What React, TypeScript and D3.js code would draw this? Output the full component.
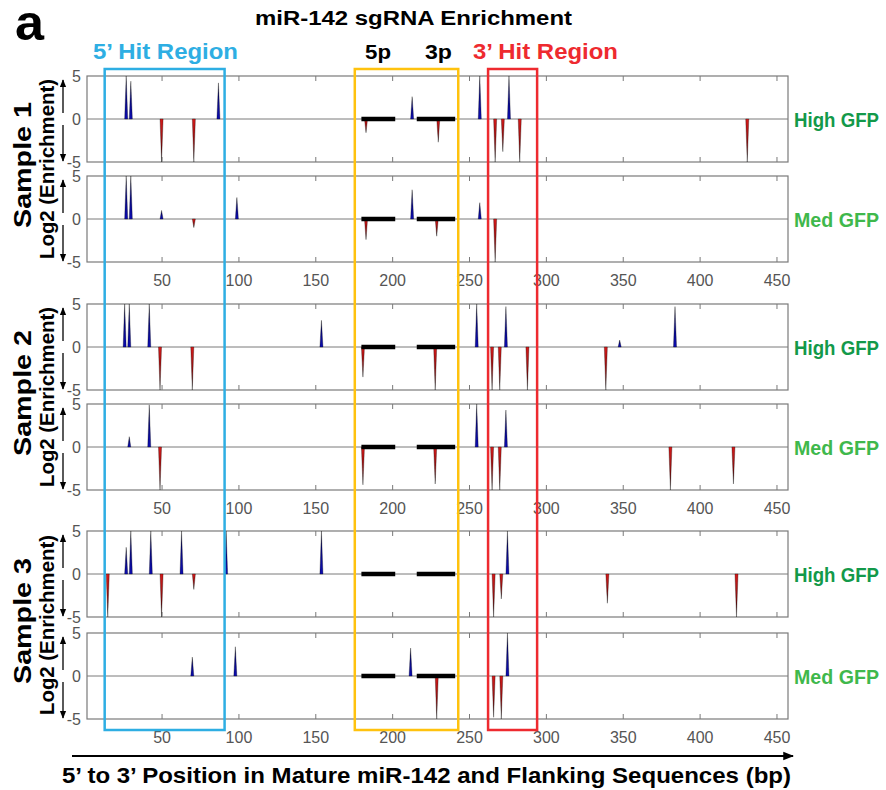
import * as d3 from "d3";
import { useEffect, useRef } from "react";

// spikes: [position (bp), log2 enrichment]
const s1High: [number, number][] = [[27, 5], [30, 4.4], [50, -5], [71, -5], [87, 4.2], [183, -1.6], [213, 2.6], [230, -2.7], [257, 5], [267, -5], [272, -3.8], [276, 5], [283, -5], [431, -5]];
const s1Med: [number, number][] = [[27, 5], [30, 5], [50, 1], [71, -1], [99, 2.5], [183, -2.4], [213, 3.4], [229, -2], [257, 1.9], [267, -5]];
const s2High: [number, number][] = [[26, 5], [29, 5], [42, 5], [49, -5], [70, -5], [154, 3.1], [181, -3.5], [228, -5], [255, 5], [265, -5], [270, -5], [274, 4.7], [288, -5], [339, -5], [348, 0.8], [384, 4.7]];
const s2Med: [number, number][] = [[29, 1.2], [42, 4.9], [49, -5], [181, -4.4], [228, -4.3], [255, 5], [265, -5], [270, -5], [274, 4.3], [381, -5], [422, -4.3]];
const s3High: [number, number][] = [[15, -5], [27, 3.1], [30, 5], [43, 5], [50, -5], [63, 5], [71, -1.8], [92, 5], [154, 5], [266, -5], [271, -2.9], [275, 5], [340, -3.4], [424, -5]];
const s3Med: [number, number][] = [[70, 2.2], [98, 3.4], [212, 3.25], [229, -5], [266, -4.8], [271, -5], [275, 5]];

const panelData = [s1High, s1Med, s2High, s2Med, s3High, s3Med];
const panelLabels = ["High GFP", "Med GFP", "High GFP", "Med GFP", "High GFP", "Med GFP"];
const sampleLabels = ["Sample 1", "Sample 2", "Sample 3"];
const xTicks = [50, 100, 150, 200, 250, 300, 350, 400, 450];
const yTicks = [-5, 0, 5];

// mature arms and hit regions (bp)
const arm5p = [180, 202];
const arm3p = [216, 241];
const hit5 = [13, 91];
const matureBox = [175.7, 243];
const hit3 = [262.4, 294.3];

const W = 886, H = 790;
const panelTops = [76, 176, 304, 404, 531, 633];
const PH = 86;

export default function App() {
  const ref = useRef<SVGSVGElement>(null);

  useEffect(() => {
    const svg = d3.select(ref.current);
    svg.selectAll("*").remove();
    const font = "'Liberation Sans', Arial, sans-serif";

    const x = d3.scaleLinear().domain([1.5, 457.5]).range([87, 788]);
    const y = d3.scaleLinear().domain([-5, 5]).range([PH, 0]);

    const defs = svg.append("defs");
    const mk = defs.append("marker").attr("id", "ah").attr("viewBox", "0 0 10 10")
      .attr("refX", 9).attr("refY", 5).attr("markerWidth", 6).attr("markerHeight", 6)
      .attr("orient", "auto-start-reverse");
    mk.append("path").attr("d", "M0,1 L10,5 L0,9 Z").attr("fill", "#000");

    const gPos = defs.append("linearGradient").attr("id", "gpos").attr("x1", 0).attr("y1", 1).attr("x2", 0).attr("y2", 0);
    gPos.append("stop").attr("offset", "0").attr("stop-color", "#0c0cb0");
    gPos.append("stop").attr("offset", "0.6").attr("stop-color", "#0a0a80");
    gPos.append("stop").attr("offset", "1").attr("stop-color", "#000");
    const gNeg = defs.append("linearGradient").attr("id", "gneg").attr("x1", 0).attr("y1", 0).attr("x2", 0).attr("y2", 1);
    gNeg.append("stop").attr("offset", "0").attr("stop-color", "#d41a1a");
    gNeg.append("stop").attr("offset", "0.6").attr("stop-color", "#901010");
    gNeg.append("stop").attr("offset", "1").attr("stop-color", "#000");

    const spike = d3.line<[number, number]>().x(d => x(d[0])).y(d => y(d[1]));

    panelData.forEach((data, i) => {
      const g = svg.append("g").attr("transform", `translate(0,${panelTops[i]})`);
      g.append("rect").attr("x", x(1.5)).attr("y", 0).attr("width", x(457.5) - x(1.5)).attr("height", PH)
        .attr("fill", "#fff").attr("stroke", "#7a7a7a").attr("stroke-width", 1.2);
      g.append("line").attr("x1", x(1.5)).attr("x2", x(457.5)).attr("y1", y(0)).attr("y2", y(0))
        .attr("stroke", "#7a7a7a").attr("stroke-width", 1);

      // ticks
      const showLabels = i % 2 === 1;
      const bottom = g.append("g").attr("transform", `translate(0,${PH})`)
        .call(d3.axisBottom(x).tickValues(xTicks).tickSize(-5).tickSizeOuter(0).tickPadding(13)
          .tickFormat(showLabels ? (d => String(d)) : () => ""));
      bottom.select(".domain").remove();
      bottom.selectAll("line").attr("stroke", "#7a7a7a");
      bottom.selectAll("text").attr("fill", "#555").attr("font-size", 16).attr("font-family", font);
      const top = g.append("g")
        .call(d3.axisTop(x).tickValues(xTicks).tickSize(-5).tickSizeOuter(0).tickFormat(() => ""));
      top.select(".domain").remove();
      top.selectAll("line").attr("stroke", "#7a7a7a");
      const left = g.append("g").attr("transform", `translate(${x(1.5)},0)`)
        .call(d3.axisLeft(y).tickValues(yTicks).tickSize(0).tickPadding(6).tickFormat(d => String(d)));
      left.select(".domain").remove();
      left.selectAll("text").attr("fill", "#555").attr("font-size", 16).attr("font-family", font);

      // spikes
      g.selectAll(".spk").data(data).join("path").attr("class", "spk")
        .attr("d", d => spike([[d[0] - 1, 0], [d[0], d[1]], [d[0] + 1, 0]]) + "Z")
        .attr("fill", d => d[1] > 0 ? "url(#gpos)" : "url(#gneg)")
        .attr("stroke", "#000").attr("stroke-width", 0.3);

      // mature arms
      [arm5p, arm3p].forEach(a => {
        g.append("line").attr("x1", x(a[0])).attr("x2", x(a[1])).attr("y1", y(0)).attr("y2", y(0))
          .attr("stroke", "#000").attr("stroke-width", 4.5);
      });

      // side arrows
      g.append("line").attr("x1", 63).attr("x2", 63).attr("y1", y(0) - 6).attr("y2", 4)
        .attr("stroke", "#000").attr("stroke-width", 1.3).attr("marker-end", "url(#ah)");
      g.append("line").attr("x1", 63).attr("x2", 63).attr("y1", y(0) + 6).attr("y2", PH - 1)
        .attr("stroke", "#000").attr("stroke-width", 1.3).attr("marker-end", "url(#ah)");

      g.append("text").attr("x", 794).attr("y", y(0) + 8).attr("font-family", font).attr("font-weight", "bold")
        .attr("font-size", 20).attr("textLength", 85).attr("lengthAdjust", "spacingAndGlyphs")
        .attr("fill", i % 2 === 0 ? "#13994a" : "#3fb84c").text(panelLabels[i]);
    });

    // sample labels
    sampleLabels.forEach((s, k) => {
      const yc = (panelTops[2 * k] + panelTops[2 * k + 1] + PH) / 2;
      svg.append("text").attr("transform", `translate(31,${yc - 4}) rotate(-90)`).attr("text-anchor", "middle")
        .attr("font-family", font).attr("font-weight", "bold").attr("font-size", 24)
        .attr("textLength", 126).attr("lengthAdjust", "spacingAndGlyphs").text(s);
      svg.append("text").attr("transform", `translate(54,${yc}) rotate(-90)`).attr("text-anchor", "middle")
        .attr("font-family", font).attr("font-weight", "bold").attr("font-size", 20)
        .attr("textLength", 180).attr("lengthAdjust", "spacingAndGlyphs").text("Log2 (Enrichment)");
    });

    // region boxes
    const boxes: [number[], string][] = [[hit5, "#2eaee3"], [matureBox, "#ffc20e"], [hit3, "#ee2a2f"]];
    boxes.forEach(([b, c]) => {
      svg.append("rect").attr("x", x(b[0])).attr("y", 69).attr("width", x(b[1]) - x(b[0])).attr("height", 661)
        .attr("fill", "none").attr("stroke", c).attr("stroke-width", 2.5);
    });

    const txt = (t: string, x0: number, y0: number, size: number, len: number, fill = "#000") =>
      svg.append("text").attr("x", x0).attr("y", y0).attr("font-family", font).attr("font-weight", "bold")
        .attr("font-size", size).attr("textLength", len).attr("lengthAdjust", "spacingAndGlyphs")
        .attr("fill", fill).text(t);

    txt("a", 15, 40, 50, 29);
    txt("miR-142 sgRNA Enrichment", 255, 25, 20, 317);
    txt("5\u2019 Hit Region", 93, 59, 22, 145, "#2eaee3");
    txt("5p", 365, 59, 20, 26);
    txt("3p", 425, 59, 20, 27);
    txt("3\u2019 Hit Region", 473, 59, 22, 145, "#ee2a2f");
    txt("5\u2019 to 3\u2019 Position in Mature miR-142 and Flanking Sequences (bp)", 62, 783, 22, 729);

    svg.append("line").attr("x1", 72).attr("x2", 793).attr("y1", 756).attr("y2", 756)
      .attr("stroke", "#000").attr("stroke-width", 1.8).attr("marker-end", "url(#ah)");
  }, []);

  return (
    <svg ref={ref} width={W} height={H} style={{ position: "absolute", left: 0, top: 0, background: "#fff" }} />
  );
}
